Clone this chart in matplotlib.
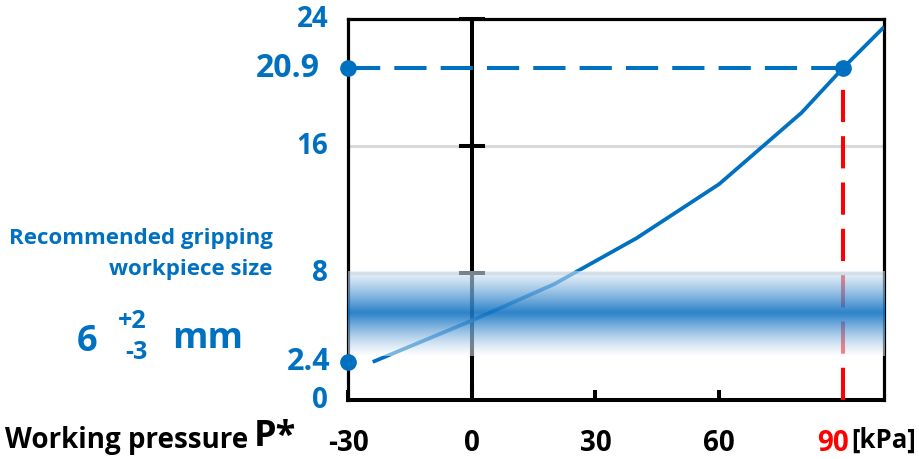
import numpy as np
import matplotlib.pyplot as plt

plt.rcParams['font.family'] = ['Open Sans', 'DejaVu Sans']
plt.rcParams['font.weight'] = 'bold'

# data
pressure = [-24, 0, 20, 40, 60, 80, 90, 100]
size_mm = [2.4, 5.0, 7.3, 10.2, 13.6, 18.1, 20.9, 23.5]
p_work, s_work = 90, 20.9
s_min = 2.4
band_lo, band_hi, band_mid = 2.8, 8.1, 5.5

xticks = [-30, 0, 30, 60, 90]
ytick_vals = [0, 2.4, 8, 16, 20.9, 24]
ytick_txt = ['0', '2.4', '8', '16', '20.9', '24']
ytick_size = [20, 22, 20, 20, 23, 20]

blue = '#0070C0'
band_blue = np.array([0.09, 0.46, 0.77])

fig = plt.figure(figsize=(9.19, 4.59), dpi=100)
ax = fig.add_axes([0.3787, 0.1285, 0.5833, 0.8301])
ax.set_xlim(-30, 100)
ax.set_ylim(0, 24)

for s in ax.spines.values():
    s.set_linewidth(2.3)
    s.set_color('black')
ax.spines['bottom'].set_linewidth(2.9)

# grid lines
for g in [8, 16]:
    ax.axhline(g, color='#d9d9d9', lw=2.2, zorder=1)

# y axis through 0 with its ticks
ax.axvline(0, color='black', lw=2.9, zorder=2)
ax.plot([0, 0, 0], [8, 16, 24], ls='none', marker='_', ms=19, mew=2.9,
        color='black', zorder=2, clip_on=False)

ax.set_xticks(xticks)
ax.set_xticklabels([])
ax.set_yticks([])
ax.tick_params(axis='x', direction='in', length=7, width=2.9, color='black')

# curve
ax.plot(pressure, size_mm, color=blue, lw=2.7, zorder=3, solid_capstyle='butt')

# working point guides
ax.plot([-30, p_work], [s_work, s_work], color=blue, lw=2.9,
        dashes=(8, 3.5), zorder=3)
ax.plot([p_work, p_work], [0, s_work], color='red', lw=2.9,
        dashes=(8, 3.5), zorder=3)
ax.plot([-30, p_work], [s_work, s_work], ls='none', marker='o', ms=11,
        color=blue, zorder=5, clip_on=False)
ax.plot([-30], [s_min], ls='none', marker='o', ms=11, color=blue,
        zorder=5, clip_on=False)

# recommended size band (vertical gradient)
yy = np.linspace(band_lo, band_hi, 200)
d = np.where(yy < band_mid, (band_mid - yy) / (band_mid - band_lo),
             (yy - band_mid) / (band_hi - band_mid))
w = np.clip(1 - d ** 1.1, 0, 1)
w = np.where(yy > band_mid, 0.15 + 0.85 * w, w)
img = np.zeros((len(yy), 1, 4))
img[:, 0, :3] = (1 - w[:, None]) * 1.0 + w[:, None] * band_blue
img[:, 0, 3] = 0.5 + 0.4 * w
ax.imshow(img, extent=[-30, 100, band_lo, band_hi], origin='lower',
          aspect='auto', interpolation='bilinear', zorder=4)
ax.set_xlim(-30, 100)
ax.set_ylim(0, 24)

# y labels
ylab_off = {20.9: -0.052, 2.4: -0.033}
for v, t, fs in zip(ytick_vals, ytick_txt, ytick_size):
    ax.text(ylab_off.get(v, -0.037), v, t, transform=ax.get_yaxis_transform(),
            ha='right', va='center', color=blue, fontsize=fs, fontweight='bold')

# x labels
for v in xticks:
    col = 'red' if v == p_work else 'black'
    xx = v - 2.3 if v == p_work else v
    ax.text(xx, -0.115, str(v), transform=ax.get_xaxis_transform(),
            ha='center', va='center', color=col, fontsize=20, fontweight='bold')
fig.text(0.926, 0.041, '[kPa]', ha='left', va='center', fontsize=18.5,
         fontweight='bold', color='black')

fig.text(0.005, 0.040, 'Working pressure', ha='left', va='center',
         fontsize=20, fontweight='bold', color='black')
fig.text(0.276, 0.048, 'P*', ha='left', va='center', fontsize=26,
         fontweight='bold', color='black')

fig.text(0.297, 0.447, 'Recommended gripping\nworkpiece size', ha='right',
         va='center', fontsize=16, fontweight='bold', color=blue,
         linespacing=1.6)
fig.text(0.095, 0.255, '6', ha='center', va='center', fontsize=26,
         fontweight='bold', color=blue)
fig.text(0.144, 0.300, '+2', ha='center', va='center', fontsize=18,
         fontweight='bold', color=blue)
fig.text(0.149, 0.233, '-3', ha='center', va='center', fontsize=18,
         fontweight='bold', color=blue)
fig.text(0.226, 0.262, 'mm', ha='center', va='center', fontsize=26,
         fontweight='bold', color=blue)

fig.savefig('out.png', dpi=100)
